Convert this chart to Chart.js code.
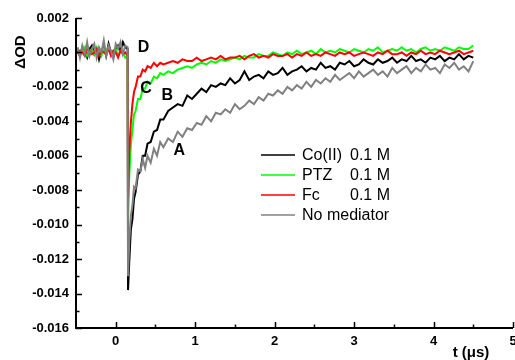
<!DOCTYPE html>
<html>
<head>
<meta charset="utf-8">
<script src="https://cdn.jsdelivr.net/npm/chart.js@4"></script>
<style>
  html, body { margin: 0; padding: 0; background: #fff; }
  #wrap { width: 515px; height: 360px; }
</style>
</head>
<body>
<div id="wrap"><canvas id="myChart" width="515" height="360"></canvas></div>
<script>
const ctx = document.getElementById('myChart');

// time axis (us): pre-trigger, drop, early decay, tail
const times = [
  -0.48,-0.45,-0.42,-0.39,-0.36,-0.33,-0.30,-0.27,-0.24,-0.21,-0.18,-0.15,-0.12,-0.09,-0.06,-0.03,0.00,0.03,0.06,0.09,0.12,0.15,
  0.155,
  0.17,0.19,0.21,0.23,0.25,0.28,0.31,0.34,0.37,0.40,0.44,0.48,0.52,0.56,0.60,
  0.66,0.72,0.78,0.84,0.90,0.96,1.02,1.08,1.14,1.20,1.26,1.32,1.38,1.44,1.50,1.56,1.62,1.68,1.74,1.80,1.86,1.92,1.98,
  2.04,2.10,2.16,2.22,2.28,2.34,2.40,2.46,2.52,2.58,2.64,2.70,2.76,2.82,2.88,2.94,3.00,
  3.06,3.12,3.18,3.24,3.30,3.36,3.42,3.48,3.54,3.60,3.66,3.72,3.78,3.84,3.90,3.96,
  4.02,4.08,4.14,4.20,4.26,4.32,4.38,4.44,4.50
]

const coValues = [
  0.0001,-0.0002,0.0003,0.0000,-0.0003,0.0002,0.0004,-0.0001,0.0002,-0.0004,0.0001,0.0003,-0.0002,0.0005,0.0000,-0.0003,0.0002,0.0004,0.0001,0.0006,0.0003,0.0002,
  -0.0138,
  -0.0122,-0.0103,-0.0097,-0.0085,-0.0081,-0.0071,-0.0069,-0.0060,-0.0060,-0.0053,-0.0052,-0.0046,-0.0045,-0.0039,-0.0039,
  -0.0034,-0.0032,-0.0030,-0.0031,-0.0025,-0.0027,-0.0024,-0.0021,-0.0023,-0.0019,-0.0020,-0.0018,-0.0019,-0.0015,-0.0018,-0.0016,-0.0011,-0.0016,-0.0014,-0.0013,-0.0015,-0.0011,-0.0013,
  -0.0012,-0.0009,-0.0013,-0.0011,-0.0010,-0.0008,-0.0011,-0.0009,-0.0010,-0.0006,-0.0009,-0.0008,-0.0010,-0.0006,-0.0007,-0.0005,-0.0008,
  -0.0007,-0.0004,-0.0006,-0.0007,-0.0004,-0.0006,-0.0005,-0.0003,-0.0006,-0.0004,-0.0005,-0.0002,-0.0005,-0.0004,-0.0006,-0.0003,
  -0.0004,-0.0002,-0.0005,-0.0003,-0.0004,-0.0001,-0.0004,-0.0002,-0.0003
]

const ptzValues = [
  0.0002,-0.0001,0.0001,0.0003,-0.0002,0.0000,0.0002,-0.0001,0.0003,0.0001,-0.0002,0.0002,0.0000,0.0003,-0.0001,0.0001,0.0002,-0.0002,0.0001,0.0000,-0.0003,-0.0002,
  -0.0098,
  -0.0072,-0.0054,-0.0045,-0.0036,-0.0034,-0.0027,-0.0027,-0.0021,-0.0021,-0.0017,-0.0018,-0.0014,-0.0015,-0.0012,-0.0013,
  -0.0011,-0.0012,-0.0010,-0.0009,-0.0008,-0.0009,-0.0007,-0.0006,-0.0007,-0.0005,-0.0006,-0.0004,-0.0005,-0.0004,-0.0003,-0.0004,-0.0002,-0.0003,-0.0003,-0.0001,-0.0002,-0.0002,0.0000,
  -0.0001,-0.0002,0.0000,-0.0001,0.0001,-0.0001,0.0000,0.0001,-0.0001,0.0002,0.0000,0.0001,0.0000,0.0002,0.0001,0.0000,0.0002,
  0.0001,0.0000,0.0002,0.0001,0.0003,0.0000,0.0001,0.0002,0.0001,0.0003,0.0001,0.0002,0.0000,0.0002,0.0003,0.0001,
  0.0002,0.0001,0.0003,0.0002,0.0001,0.0003,0.0002,0.0002,0.0004
]

const fcValues = [
  -0.0001,0.0001,0.0000,-0.0002,0.0002,0.0001,-0.0001,0.0000,0.0002,-0.0002,0.0001,0.0000,-0.0001,0.0002,-0.0002,0.0001,0.0000,-0.0003,0.0001,-0.0001,0.0000,-0.0002,
  -0.0085,
  -0.0058,-0.0041,-0.0030,-0.0023,-0.0020,-0.0014,-0.0014,-0.0010,-0.0011,-0.0008,-0.0009,-0.0006,-0.0008,-0.0006,-0.0007,
  -0.0006,-0.0005,-0.0006,-0.0004,-0.0005,-0.0005,-0.0003,-0.0005,-0.0004,-0.0003,-0.0004,-0.0002,-0.0004,-0.0003,-0.0003,-0.0002,-0.0004,-0.0002,-0.0001,-0.0003,-0.0002,-0.0003,-0.0001,
  -0.0002,-0.0002,-0.0001,-0.0003,-0.0001,-0.0002,0.0000,-0.0002,-0.0001,-0.0002,0.0000,-0.0001,-0.0002,0.0000,-0.0001,0.0000,-0.0002,
  -0.0001,0.0000,-0.0001,-0.0002,0.0000,-0.0001,0.0001,-0.0001,-0.0001,0.0000,-0.0002,0.0000,-0.0001,0.0001,-0.0001,0.0000,
  -0.0001,0.0001,0.0000,-0.0001,0.0000,0.0001,-0.0001,0.0000,0.0001
]

const noMedValues = [
  0.0003,-0.0003,0.0004,-0.0001,0.0006,-0.0002,0.0002,0.0005,-0.0003,0.0003,0.0000,0.0007,-0.0002,0.0004,0.0001,-0.0004,0.0005,0.0002,0.0006,-0.0001,0.0004,0.0003,
  -0.0130,
  -0.0110,-0.0095,-0.0089,-0.0078,-0.0079,-0.0068,-0.0069,-0.0062,-0.0067,-0.0060,-0.0064,-0.0056,-0.0060,-0.0052,-0.0055,
  -0.0050,-0.0052,-0.0046,-0.0049,-0.0044,-0.0045,-0.0041,-0.0042,-0.0037,-0.0040,-0.0035,-0.0036,-0.0033,-0.0035,-0.0030,-0.0033,-0.0031,-0.0028,-0.0030,-0.0026,-0.0028,-0.0024,-0.0025,
  -0.0022,-0.0024,-0.0020,-0.0022,-0.0019,-0.0021,-0.0017,-0.0020,-0.0016,-0.0018,-0.0015,-0.0017,-0.0013,-0.0016,-0.0014,-0.0012,-0.0015,
  -0.0011,-0.0014,-0.0012,-0.0010,-0.0013,-0.0011,-0.0014,-0.0009,-0.0012,-0.0010,-0.0008,-0.0012,-0.0009,-0.0011,-0.0007,-0.0010,
  -0.0009,-0.0012,-0.0007,-0.0009,-0.0006,-0.0010,-0.0008,-0.0011,-0.0005
]

const legendNames = ['Co(II)', 'PTZ', 'Fc', 'No mediator']
const legendConc = ['0.1 M', '0.1 M', '0.1 M', '']
const lineColors = ['#000000', '#00ff00', '#ff0000', '#808080']

const xTickValues = [0, 1, 2, 3, 4, 5]
const xMinorTicks = [0.5, 1.5, 2.5, 3.5, 4.5]
const yTickValues = [-0.016, -0.014, -0.012, -0.010, -0.008, -0.006, -0.004, -0.002, 0.000, 0.002]
const yMinorTicks = [-0.015, -0.013, -0.011, -0.009, -0.007, -0.005, -0.003, -0.001, 0.001]

// curve letters, placed in data units
const letterTexts = ['A', 'B', 'C', 'D']
const letterX = [0.80, 0.65, 0.38, 0.35]
const letterY = [-0.0057, -0.0025, -0.0021, 0.0003]

const FONT = "'Liberation Sans', Arial, sans-serif"

function toPoints(vals) {
  return times.map((t, i) => ({ x: t, y: vals[i] }))
}

const seriesList = [coValues, ptzValues, fcValues, noMedValues]

const datasets = seriesList.map((vals, i) => ({
  label: legendNames[i],
  data: toPoints(vals),
  borderColor: lineColors[i],
  borderWidth: 2,
  pointRadius: 0,
  tension: 0,
  fill: false,
  order: 3 - i
}))

const extras = {
  id: 'extras',
  afterDraw(chart) {
    const c = chart.ctx
    const xs = chart.scales.x
    const ys = chart.scales.y
    const area = chart.chartArea
    c.save()
    c.strokeStyle = '#000'
    c.lineWidth = 2
    // spines
    c.beginPath()
    c.moveTo(area.left, area.top)
    c.lineTo(area.left, area.bottom)
    c.lineTo(area.right, area.bottom)
    c.stroke()
    // ticks pointing inward
    c.lineWidth = 1.5
    c.beginPath()
    yTickValues.forEach(v => {
      const y = Math.round(ys.getPixelForValue(v)) + 0.5
      c.moveTo(area.left, y); c.lineTo(area.left + 6, y)
    })
    yMinorTicks.forEach(v => {
      const y = Math.round(ys.getPixelForValue(v)) + 0.5
      c.moveTo(area.left, y); c.lineTo(area.left + 3.5, y)
    })
    xTickValues.forEach(v => {
      const x = Math.round(xs.getPixelForValue(v)) + 0.5
      c.moveTo(x, area.bottom); c.lineTo(x, area.bottom - 6)
    })
    xMinorTicks.forEach(v => {
      const x = Math.round(xs.getPixelForValue(v)) + 0.5
      c.moveTo(x, area.bottom); c.lineTo(x, area.bottom - 3.5)
    })
    c.stroke()

    // letters on curves
    c.fillStyle = '#000'
    c.font = 'bold 16px ' + FONT
    c.textAlign = 'center'
    c.textBaseline = 'middle'
    letterTexts.forEach((txt, i) => {
      c.fillText(txt, xs.getPixelForValue(letterX[i]), ys.getPixelForValue(letterY[i]))
    })

    // legend
    c.font = '16px ' + FONT
    c.textAlign = 'left'
    legendNames.forEach((name, i) => {
      const y = 155 + i * 20
      c.strokeStyle = lineColors[i]
      c.lineWidth = 1.6
      c.beginPath()
      c.moveTo(261, y); c.lineTo(295, y)
      c.stroke()
      c.fillStyle = '#000'
      c.fillText(name, 302, y + 1)
      if (legendConc[i]) c.fillText(legendConc[i], 350, y + 1)
    })

    // axis titles
    c.font = 'bold 15px ' + FONT
    c.textAlign = 'center'
    c.fillText('t (\u03bcs)', 471, 353)
    c.translate(21, 52)
    c.rotate(-Math.PI / 2)
    c.fillText('\u0394OD', 0, 0)
    c.restore()
  }
}

new Chart(ctx, {
  type: 'line',
  data: { datasets: datasets },
  options: {
    responsive: false,
    animation: false,
    layout: { padding: { top: 18, right: 2, left: 0, bottom: 0 } },
    plugins: {
      legend: { display: false },
      tooltip: { enabled: false }
    },
    scales: {
      x: {
        type: 'linear',
        min: -0.5,
        max: 5,
        border: { display: false },
        grid: { display: false, drawTicks: false },
        afterBuildTicks: (scale) => { scale.ticks = xTickValues.map(v => ({ value: v })) },
        afterFit: (scale) => { scale.height = 32; scale.paddingLeft = 0; scale.paddingRight = 0 },
        ticks: {
          autoSkip: false,
          maxRotation: 0,
          padding: 6,
          color: '#000',
          font: { family: FONT, size: 13, weight: 'bold' },
          callback: (v) => String(v)
        }
      },
      y: {
        min: -0.016,
        max: 0.002,
        border: { display: false },
        grid: { display: false, drawTicks: false },
        afterBuildTicks: (scale) => { scale.ticks = yTickValues.map(v => ({ value: v })) },
        afterFit: (scale) => { scale.width = 76; scale.paddingTop = 0; scale.paddingBottom = 0 },
        ticks: {
          padding: 7,
          color: '#000',
          font: { family: FONT, size: 13, weight: 'bold' },
          callback: (v) => Number(v).toFixed(3)
        }
      }
    }
  },
  plugins: [extras]
});
</script>
</body>
</html>
